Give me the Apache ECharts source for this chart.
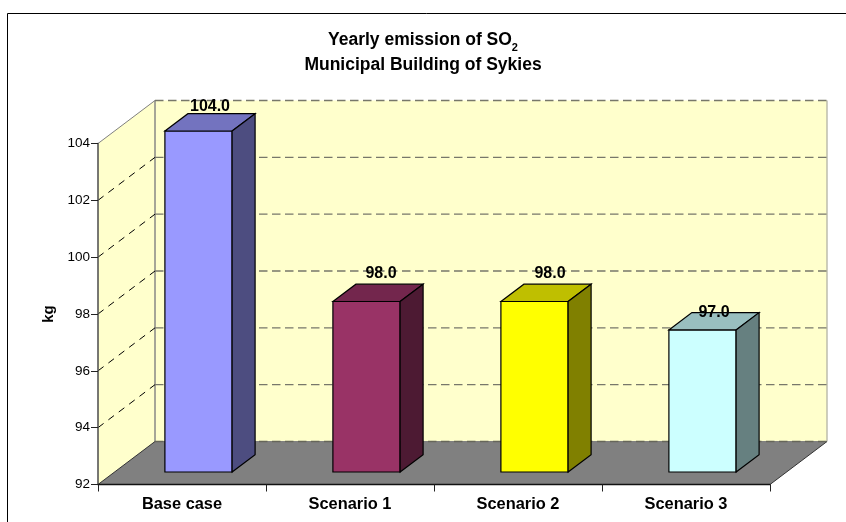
<!DOCTYPE html>
<html><head><meta charset="utf-8">
<style>html,body{margin:0;padding:0;background:#fff}#c{width:846px;height:522px}</style>
<script src="https://cdn.jsdelivr.net/npm/echarts@6/dist/echarts.min.js"></script>
</head><body><div id="c"></div>
<script>
const categories = ['Base case', 'Scenario 1', 'Scenario 2', 'Scenario 3'];
const values = [104, 98, 98, 97];
const yTicks = [92, 94, 96, 98, 100, 102, 104];
const yName = 'kg';
const titleLine1 = 'Yearly emission of SO';
const titleSub = '2';
const titleLine2 = 'Municipal Building of Sykies';

const faceColors = ['#9999FF', '#993366', '#FFFF00', '#CCFFFF'];
const topColors = ['#7373BF', '#73264D', '#BFBF00', '#99BFBF'];
const sideColors = ['#4D4D80', '#4D1A33', '#808000', '#668080'];
const labelNudge = [[0, -7], [3, -11], [4, -11], [0, 0]];

const FONT = '"Liberation Sans", Arial, sans-serif';
const WALL = [57, -43];            // full depth of the box
const BAR_FRONT = [16.5, -12.5];   // bar front plane offset
const BAR_DEPTH = [23, -17.3];     // bar depth

function poly(points, fill, stroke, lw, z2) {
  return { type: 'polygon', shape: { points }, z2: z2 || 0,
    style: { fill, stroke: stroke || 'none', lineWidth: lw || 1 } };
}
function seg(a, b, stroke, dash, lw, z2) {
  return { type: 'line', z2: z2 || 1, shape: { x1: a[0], y1: a[1], x2: b[0], y2: b[1] },
    style: { stroke, lineWidth: lw || 1, lineDash: dash || null, fill: 'none' } };
}

function renderWalls(params, api) {
  const g = params.coordSys;
  const dx = WALL[0], dy = WALL[1];
  const L = g.x, R = g.x + g.width, T = g.y, B = g.y + g.height;
  const children = [
    poly([[L + dx, T + dy], [R + dx, T + dy], [R + dx, B + dy], [L + dx, B + dy]], '#FFFFCC'),
    poly([[L, T], [L + dx, T + dy], [L + dx, B + dy], [L, B]], '#FFFFCC'),
    poly([[L, B], [L + dx, B + dy], [R + dx, B + dy], [R, B]], '#808080'),
    seg([L + dx, B + dy], [R + dx, B + dy], '#808080', null, 1),
    seg([L, T], [L + dx, T + dy], '#808080', null, 1),
    seg([L + dx, T + dy], [L + dx, B + dy], '#808080', null, 1.4),
    seg([R + dx, T + dy], [R + dx, B + dy], '#B8B8A8', null, 1.4),
    seg([L, B], [L + dx, B + dy], '#333333', null, 1),
    seg([R, B], [R + dx, B + dy], '#333333', null, 1)
  ];
  yTicks.forEach(function (t) {
    const y = api.coord([0, t])[1];
    const isFloor = t === yTicks[0];
    children.push(seg([L + dx, y + dy], [R + dx, y + dy], isFloor ? '#66665A' : '#77776A', [8.5, 4.5], 1.3));
    if (!isFloor && t < yTicks[yTicks.length - 1]) {
      children.push(seg([L, y], [L + dx, y + dy], '#000000', [7, 6], 1));
    }
  });
  return { type: 'group', children };
}

function renderBar(params, api) {
  const i = api.value(0);
  const v = api.value(1);
  const band = api.size([1, 0])[0];
  const w = band / 2.5;
  const c = api.coord([i, v]);
  const base = api.coord([i, yTicks[0]]);
  const x0 = c[0] - w / 2 + BAR_FRONT[0], x1 = x0 + w;
  const top = c[1] + BAR_FRONT[1], bot = base[1] + BAR_FRONT[1];
  const ddx = BAR_DEPTH[0], ddy = BAR_DEPTH[1];
  const n = labelNudge[i];
  return { type: 'group', children: [
    poly([[x0, top], [x1, top], [x1, bot], [x0, bot]], faceColors[i], '#000', 1.2),
    poly([[x0, top], [x0 + ddx, top + ddy], [x1 + ddx, top + ddy], [x1, top]], topColors[i], '#000', 1.2),
    poly([[x1, top], [x1 + ddx, top + ddy], [x1 + ddx, bot + ddy], [x1, bot]], sideColors[i], '#000', 1.2),
    { type: 'text', z2: 10, style: {
        text: v.toFixed(1), x: x0 + w / 2 + ddx / 2 + n[0], y: top + ddy + n[1],
        align: 'center', verticalAlign: 'middle',
        font: 'bold 16px ' + FONT, fill: '#000' } }
  ] };
}

const chart = echarts.init(document.getElementById('c'), null, { renderer: 'canvas' });
chart.setOption({
  animation: false,
  backgroundColor: '#fff',
  title: {
    left: 'center', top: 23,
    text: '{t|' + titleLine1 + '}{s|' + titleSub + '}\n{t|' + titleLine2 + '}',
    textStyle: { rich: {
      t: { fontFamily: FONT, fontWeight: 'bold', fontSize: 17.5, lineHeight: 25, color: '#000' },
      s: { fontFamily: FONT, fontWeight: 'bold', fontSize: 11, lineHeight: 25, color: '#000', verticalAlign: 'bottom' }
    } }
  },
  grid: { left: 98, top: 143.5, width: 672, height: 341 },
  xAxis: {
    type: 'category', data: categories, z: 5,
    axisLine: { lineStyle: { color: '#111', width: 1.4 } },
    axisTick: { show: true, length: 7, alignWithLabel: false, lineStyle: { color: '#222' } },
    axisLabel: { fontFamily: FONT, fontWeight: 'bold', fontSize: 16.4, color: '#000', margin: 12, interval: 0 }
  },
  yAxis: {
    type: 'value', min: 92, max: 104, interval: 2, z: 5,
    name: yName, nameLocation: 'middle', nameGap: 42, nameRotate: 90,
    nameTextStyle: { fontFamily: FONT, fontWeight: 'bold', fontSize: 15, color: '#000' },
    axisLine: { show: true, lineStyle: { color: '#555', width: 1.6 } },
    axisTick: { show: true, length: 7, lineStyle: { color: '#222' } },
    axisLabel: { fontFamily: FONT, fontSize: 13.5, color: '#000', margin: 8 },
    splitLine: { show: false }
  },
  graphic: [
    { type: 'polyline', shape: { points: [[7.5, 522], [7.5, 13.5], [846, 13.5]] },
      style: { stroke: '#000', lineWidth: 1, fill: 'none' }, z: 0, silent: true }
  ],
  series: [
    { type: 'custom', name: 'walls', z: 1, silent: true, clip: false, renderItem: renderWalls, data: [[0, 92]] },
    { type: 'custom', name: 'bars', z: 2, silent: true, clip: false, renderItem: renderBar,
      encode: { x: 0, y: 1 }, data: values.map(function (v, i) { return [i, v]; }) }
  ]
});
</script></body></html>
